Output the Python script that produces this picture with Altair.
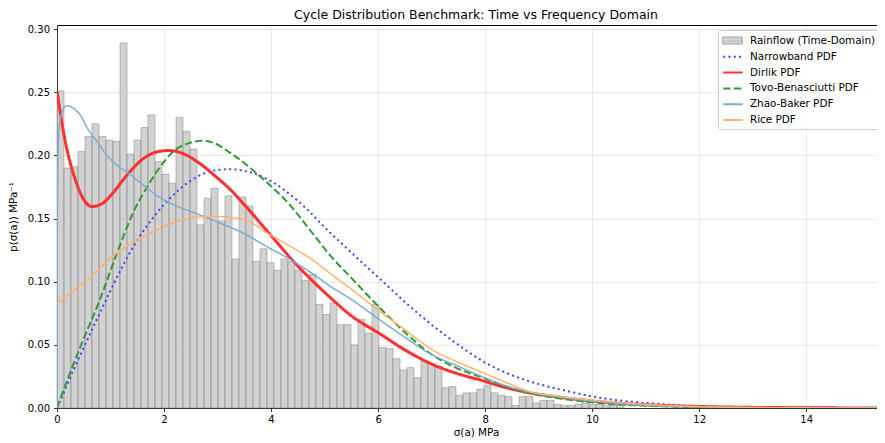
import altair as alt
import pandas as pd

FONT = "DejaVu Sans"
TITLE = "Cycle Distribution Benchmark: Time vs Frequency Domain"
X_TITLE = "σ(a) MPa"
Y_TITLE = "p(σ(a)) MPa⁻¹"

series_names = ["Rainflow (Time-Domain)", "Narrowband PDF", "Dirlik PDF",
                "Tovo-Benasciutti PDF", "Zhao-Baker PDF", "Rice PDF"]

# histogram (rainflow) - bin width and density per bin
bin_width = 0.1308
rainflow_density = [
    0.251, 0.190, 0.191, 0.203, 0.215, 0.225, 0.215, 0.212, 0.211, 0.289,
    0.201, 0.212, 0.222, 0.232, 0.195, 0.185, 0.178, 0.230, 0.219, 0.205,
    0.145, 0.166, 0.174, 0.148, 0.168, 0.118, 0.167, 0.160, 0.116, 0.126,
    0.115, 0.109, 0.118, 0.116, 0.109, 0.101, 0.106, 0.082, 0.074, 0.083,
    0.066, 0.066, 0.050, 0.070, 0.059, 0.082, 0.048, 0.047, 0.039, 0.030,
    0.032, 0.024, 0.037, 0.035, 0.033, 0.016, 0.017, 0.010, 0.012, 0.012,
    0.015, 0.018, 0.012, 0.010, 0.009, 0.002, 0.009, 0.009, 0.004, 0.006,
    0.006, 0.003, 0.002, 0.002, 0.003, 0.004, 0.003, 0.003, 0.002, 0.002, 0.002,
]

narrow_x = [0, 0.5, 0.8, 1.0, 1.43, 2.0, 2.5, 3.0, 3.25, 3.5, 4.0, 4.5, 5.1, 5.5, 6.04,
            6.5, 7.0, 7.5, 8.0, 8.5, 9.0, 9.6, 10.2, 11.1, 12.0, 13.0, 14.0, 15.8]
narrow_y = [0, 0.048, 0.075, 0.093, 0.128, 0.161, 0.180, 0.1885, 0.189, 0.1878, 0.1795,
            0.164, 0.139, 0.123, 0.102, 0.084, 0.066, 0.050, 0.036, 0.026, 0.019, 0.0128,
            0.0077, 0.0037, 0.0015, 0.0005, 0.0002, 0.0]

dirlik_x = [0, 0.15, 0.34, 0.5, 0.65, 0.85, 1.02, 1.3, 1.6, 1.85, 2.08, 2.35, 2.67, 3.0,
            3.2, 3.5, 3.98, 4.45, 5.1, 5.5, 6.04, 6.5, 6.97, 7.5, 7.91, 8.4, 8.84, 9.4,
            10.0, 11.08, 12.0, 13.0, 14.0, 15.8]
dirlik_y = [0.2507, 0.212, 0.181, 0.165, 0.1595, 0.162, 0.169, 0.184, 0.197, 0.2025, 0.2038,
            0.2015, 0.1935, 0.182, 0.1745, 0.161, 0.1375, 0.1147, 0.0877, 0.073, 0.0586,
            0.046, 0.0354, 0.027, 0.0222, 0.016, 0.012, 0.0085, 0.0055, 0.0024, 0.0012,
            0.0005, 0.0002, 0.0]

tb_x = [0, 0.24, 0.49, 0.8, 1.12, 1.46, 1.7, 1.89, 2.21, 2.45, 2.7, 2.95, 3.2, 3.5, 3.83,
        4.26, 4.82, 5.1, 5.5, 6.04, 6.5, 6.97, 7.5, 7.91, 8.4, 8.84, 9.4, 10.0, 11.0, 12.0,
        13.0, 14.0, 15.8]
tb_y = [0, 0.0275, 0.054, 0.0856, 0.1226, 0.158, 0.176, 0.1886, 0.2044, 0.2095, 0.2115,
        0.2095, 0.203, 0.194, 0.182, 0.165, 0.136, 0.121, 0.103, 0.079, 0.060, 0.0433,
        0.031, 0.0248, 0.017, 0.0116, 0.0075, 0.0045, 0.0018, 0.0007, 0.0002, 0.0001, 0.0]

zb_x = [0, 0.01, 0.03, 0.08, 0.18, 0.3, 0.45, 0.585, 0.75, 0.9, 1.1, 1.33, 1.6, 1.89, 2.2,
        2.58, 3.2, 3.5, 3.89, 4.3, 4.82, 5.1, 5.5, 6.04, 6.5, 6.97, 7.5, 7.91, 8.4, 8.84,
        9.4, 10.0, 11.0, 12.0, 13.0, 14.0, 15.8]
zb_y = [0, 0.17, 0.215, 0.232, 0.2393, 0.2375, 0.231, 0.2203, 0.211, 0.2018, 0.193, 0.186,
        0.177, 0.1675, 0.1605, 0.1543, 0.1437, 0.138, 0.1285, 0.119, 0.105, 0.0965, 0.086,
        0.0695, 0.056, 0.043, 0.033, 0.0254, 0.0175, 0.0125, 0.0085, 0.0055, 0.0022,
        0.0009, 0.0003, 0.0001, 0.0]

rice_x = [0, 0.49, 1.12, 1.74, 2.36, 2.64, 2.95, 3.51, 3.93, 4.4, 4.82, 5.1, 5.5, 6.04,
          6.5, 6.97, 7.5, 7.91, 8.4, 8.84, 9.4, 10.0, 11.0, 12.0, 13.0, 14.0, 15.8]
rice_y = [0.083, 0.0988, 0.1226, 0.1384, 0.149, 0.151, 0.1516, 0.149, 0.1384, 0.127,
          0.116, 0.1067, 0.094, 0.0763, 0.062, 0.0473, 0.036, 0.0288, 0.020, 0.0129,
          0.0092, 0.0063, 0.0028, 0.0011, 0.0004, 0.0001, 0.0]

x_ticks = [0, 2, 4, 6, 8, 10, 12, 14]
y_ticks = [0.0, 0.05, 0.10, 0.15, 0.20, 0.25, 0.30]

# ---- styles ----
colors = ["#cccccc", "#4040ff", "#ff3030", "#339933", "#79add2", "#ffb26e"]
dashes = [[1, 0], [2, 3.3], [1, 0], [7.4, 3.2], [1, 0], [1, 0]]
widths = {"Narrowband PDF": 2, "Dirlik PDF": 3, "Tovo-Benasciutti PDF": 2,
          "Zhao-Baker PDF": 1.5, "Rice PDF": 1.5}

hist_df = pd.DataFrame({
    "start": [i * bin_width for i in range(len(rainflow_density))],
    "end": [(i + 1) * bin_width for i in range(len(rainflow_density))],
    "density": rainflow_density,
    "label": series_names[0],
})

rows = []
for name, xs, ys in [("Narrowband PDF", narrow_x, narrow_y),
                     ("Dirlik PDF", dirlik_x, dirlik_y),
                     ("Tovo-Benasciutti PDF", tb_x, tb_y),
                     ("Zhao-Baker PDF", zb_x, zb_y),
                     ("Rice PDF", rice_x, rice_y)]:
    for xv, yv in zip(xs, ys):
        rows.append({"series": name, "x": xv, "y": yv, "lw": widths[name]})
line_df = pd.DataFrame(rows)

PLOT_W = 838
PLOT_H = 383
X_MAX = 15.66
Y_MAX = 0.3032
x_scale = alt.Scale(domain=[0, X_MAX], nice=False, zero=False)
y_scale = alt.Scale(domain=[0, Y_MAX], nice=False)

common_axis = dict(grid=True, gridColor="#b0b0b0", gridOpacity=0.35, gridWidth=0.8,
                   domain=False, tickColor="black", tickSize=3.5, tickWidth=0.8,
                   labelFontSize=10, labelColor="black", labelFont=FONT,
                   titleFontSize=10.4, titleFontWeight="normal", titleColor="black",
                   titleFont=FONT)
x_axis = alt.Axis(values=x_ticks, title=X_TITLE, labelPadding=3, titlePadding=3,
                  labelFlush=False, **common_axis)
y_axis = alt.Axis(values=y_ticks, format=".2f", title=Y_TITLE, labelPadding=4,
                  titlePadding=9, **common_axis)

LEG_X = 661
LEG_Y = 5
leg_common = dict(orient="none", legendX=LEG_X, legendY=LEG_Y, title=None, padding=3,
                  symbolSize=196, symbolOffset=4, labelOffset=9, rowPadding=1.8,
                  labelFontSize=10.4, labelFont=FONT, labelColor="black")

legend_lines = alt.Legend(symbolType="M-1.4,0H1.4", symbolStrokeWidth=2,
                          strokeColor="#cccccc", fillColor="rgba(255,255,255,0.85)",
                          cornerRadius=3, zindex=1, **leg_common)
legend_hist = alt.Legend(symbolType="M-1.4,-0.5H1.4V0.5H-1.4Z", symbolStrokeColor="#7a7a7a",
                         symbolStrokeWidth=0.8, symbolFillColor="#d6d6d6", labelOpacity=0,
                         zindex=2, **leg_common)

bars = alt.Chart(hist_df).mark_rect(stroke="#666666", strokeWidth=0.5, opacity=0.8).encode(
    x=alt.X("start:Q", scale=x_scale, axis=x_axis),
    x2="end:Q",
    y=alt.Y("density:Q", scale=y_scale, axis=y_axis),
    y2=alt.datum(0),
    fill=alt.Fill("label:N", scale=alt.Scale(domain=[series_names[0]], range=["#c8c8c8"]),
                  legend=legend_hist),
)

lines = alt.Chart(line_df).mark_line(interpolate="monotone", clip=True).encode(
    x=alt.X("x:Q", scale=x_scale, axis=x_axis),
    y=alt.Y("y:Q", scale=y_scale, axis=y_axis),
    color=alt.Color("series:N", scale=alt.Scale(domain=series_names, range=colors),
                    legend=legend_lines),
    strokeDash=alt.StrokeDash("series:N", scale=alt.Scale(domain=series_names, range=dashes),
                              legend=legend_lines),
    strokeWidth=alt.StrokeWidth("lw:Q", scale=None, legend=None),
)

# page content width is 869 px; plot runs past the right edge like the reference
PAD_L, PAD_T = 49, 17
chart = alt.layer(bars, lines).properties(
    width=PLOT_W, height=PLOT_H,
    title=alt.Title(TITLE, fontSize=12.5, font=FONT, fontWeight="normal", color="black",
                    anchor="middle", baseline="bottom", offset=5, frame="group", dy=15.5),
    autosize=alt.AutoSizeParams(type="none"),
    padding={"left": PAD_L, "top": PAD_T, "right": 869 - PAD_L - PLOT_W, "bottom": 33},
).configure(font=FONT).configure_view(stroke="black", strokeWidth=1)

chart.save("out.html", embed_options={"renderer": "svg", "actions": False})
